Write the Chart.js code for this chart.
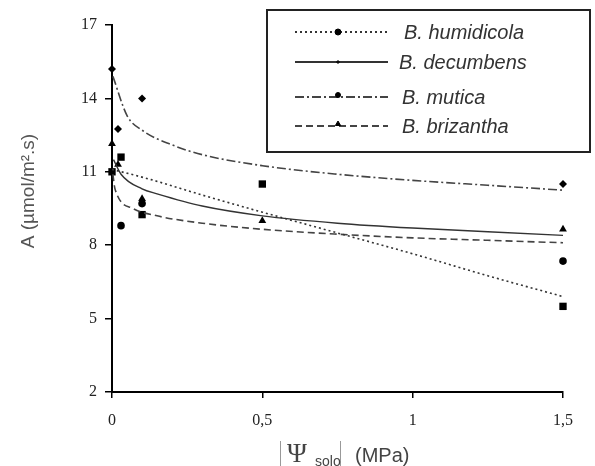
<!DOCTYPE html>
<html>
<head>
<meta charset="utf-8">
<script src="https://cdn.jsdelivr.net/npm/chart.js@4/dist/chart.umd.min.js"></script>
<style>
html, body { margin: 0; padding: 0; background: #fff; }
#wrap { width: 595px; height: 466px; }
</style>
</head>
<body>
<div id="wrap"><canvas id="myChart"></canvas></div>
<script>
var seriesNames = ['B. humidicola', 'B. decumbens', 'B. mutica', 'B. brizantha'];
var yTicks = [2, 5, 8, 11, 14, 17];
var xTicks = [0, 0.5, 1, 1.5];

// measured points
var humidicolaX = [0, 0.03, 0.1, 0.5, 1.5];
var humidicolaY = [11.0, 11.6, 9.25, 10.5, 5.5];
var decumbensX = [0, 0.02, 0.1, 0.5, 1.5];
var decumbensY = [12.15, 11.3, 9.9, 9.0, 8.65];
var muticaX = [0, 0.02, 0.1, 1.5];
var muticaY = [15.2, 12.75, 14.0, 10.5];
var brizanthaX = [0.03, 0.1, 1.5];
var brizanthaY = [8.8, 9.7, 7.35];

// fitted curves
var humidicolaFitX = [0, 0.13, 0.3, 0.5, 0.75, 1.0, 1.25, 1.5];
var humidicolaFitY = [11.1, 10.68, 10.05, 9.35, 8.5, 7.65, 6.75, 5.9];
var decumbensFitX = [0.005, 0.03, 0.1, 0.15, 0.3, 0.5, 0.75, 1.0, 1.25, 1.5];
var decumbensFitY = [11.5, 10.9, 10.3, 10.1, 9.6, 9.2, 8.9, 8.7, 8.55, 8.4];
var muticaFitX = [0.003, 0.05, 0.1, 0.2, 0.3, 0.5, 0.75, 1.0, 1.25, 1.5];
var muticaFitY = [14.9, 13.3, 12.7, 12.1, 11.7, 11.25, 10.9, 10.65, 10.45, 10.25];
var brizanthaFitX = [0.003, 0.01, 0.07, 0.15, 0.3, 0.5, 0.75, 1.0, 1.25, 1.5];
var brizanthaFitY = [10.9, 10.3, 9.5, 9.2, 8.9, 8.65, 8.45, 8.3, 8.2, 8.1];

function zip(xs, ys) {
  var out = [];
  for (var i = 0; i < xs.length; i++) out.push({ x: xs[i], y: ys[i] });
  return out;
}

var lineStyles = [
  { dash: [2, 3], width: 1.6, color: '#333', marker: 'circle', mSize: 3 },
  { dash: [], width: 1.4, color: '#333', marker: 'cross', mSize: 2 },
  { dash: [9, 3, 2, 3], width: 1.6, color: '#444', marker: 'circle', mSize: 2.5 },
  { dash: [7, 4], width: 1.6, color: '#444', marker: 'triangle', mSize: 3 }
];

var fits = [
  zip(humidicolaFitX, humidicolaFitY),
  zip(decumbensFitX, decumbensFitY),
  zip(muticaFitX, muticaFitY),
  zip(brizanthaFitX, brizanthaFitY)
];
var pts = [
  { data: zip(humidicolaX, humidicolaY), style: 'rect', r: 5.2 },
  { data: zip(decumbensX, decumbensY), style: 'triangle', r: 4.5 },
  { data: zip(muticaX, muticaY), style: 'rectRot', r: 4 },
  { data: zip(brizanthaX, brizanthaY), style: 'circle', r: 3.8 }
];

var datasets = [];
for (var i = 0; i < 4; i++) {
  datasets.push({
    type: 'line',
    label: seriesNames[i],
    data: fits[i],
    borderColor: lineStyles[i].color,
    borderWidth: lineStyles[i].width,
    borderDash: lineStyles[i].dash,
    pointRadius: 0,
    cubicInterpolationMode: 'monotone',
    fill: false
  });
}
for (var j = 0; j < 4; j++) {
  datasets.push({
    type: 'scatter',
    label: seriesNames[j] + ' pts',
    data: pts[j].data,
    pointStyle: pts[j].style,
    pointRadius: pts[j].r,
    backgroundColor: '#000',
    borderColor: '#000',
    borderWidth: 0,
    showLine: false,
    clip: false
  });
}

var legendBox = {
  id: 'legendBox',
  afterDraw: function(chart) {
    var ctx = chart.ctx;
    ctx.save();
    ctx.fillStyle = '#fff';
    ctx.fillRect(267, 10, 323, 142);
    ctx.strokeStyle = '#222';
    ctx.lineWidth = 2;
    ctx.strokeRect(267, 10, 323, 142);
    var rows = [32, 62, 97, 126];
    var textX = [404, 399, 402, 402];
    for (var i = 0; i < 4; i++) {
      var s = lineStyles[i];
      ctx.strokeStyle = s.color;
      ctx.lineWidth = 2;
      ctx.setLineDash(s.dash);
      ctx.beginPath();
      ctx.moveTo(295, rows[i]);
      ctx.lineTo(388, rows[i]);
      ctx.stroke();
      ctx.setLineDash([]);
      ctx.fillStyle = '#000';
      ctx.strokeStyle = '#000';
      ctx.lineWidth = 1;
      Chart.helpers.drawPoint(ctx, { pointStyle: s.marker, radius: s.mSize, rotation: 0, borderWidth: 1 }, 338, rows[i] - (i >= 2 ? 2 : 0));
      ctx.fillStyle = '#333';
      ctx.font = 'italic 20px "Liberation Sans", Arial, sans-serif';
      ctx.textBaseline = 'middle';
      ctx.fillText(seriesNames[i], textX[i], rows[i] + 1);
    }
    ctx.restore();
  }
};

var axisTitles = {
  id: 'axisTitles',
  afterDraw: function(chart) {
    var ctx = chart.ctx;
    ctx.save();
    // y title
    ctx.fillStyle = '#555';
    ctx.translate(29, 191);
    ctx.rotate(-Math.PI / 2);
    ctx.textAlign = 'center';
    ctx.textBaseline = 'middle';
    ctx.font = '19px "Liberation Sans", Arial, sans-serif';
    ctx.fillText('A (\u00B5mol/m\u00B2.s)', 0, 0);
    ctx.restore();

    // x title
    ctx.save();
    ctx.fillStyle = '#444';
    ctx.strokeStyle = '#999';
    ctx.lineWidth = 1;
    ctx.beginPath();
    ctx.moveTo(280.5, 441); ctx.lineTo(280.5, 466);
    ctx.moveTo(340.5, 441); ctx.lineTo(340.5, 466);
    ctx.stroke();
    ctx.textBaseline = 'alphabetic';
    ctx.font = '27px "Liberation Serif", serif';
    ctx.fillText('\u03A8', 287, 462);
    ctx.font = '14px "Liberation Sans", Arial, sans-serif';
    ctx.fillText('solo', 315, 466);
    ctx.font = '20px "Liberation Sans", Arial, sans-serif';
    ctx.fillText('(MPa)', 355, 462);
    ctx.restore();
  }
};

var ctx = document.getElementById('myChart').getContext('2d');
var myChart = new Chart(ctx, {
  data: { datasets: datasets },
  options: {
    responsive: true,
    maintainAspectRatio: false,
    animation: false,
    layout: { padding: { left: 16, right: 32, top: 25, bottom: 0 } },
    plugins: { legend: { display: false }, tooltip: { enabled: false } },
    scales: {
      x: {
        type: 'linear',
        min: 0,
        max: 1.5,
        afterBuildTicks: function(scale) {
          scale.ticks = xTicks.map(function(v) { return { value: v }; });
        },
        afterFit: function(scale) { scale.height = 74; },
        ticks: {
          color: '#222',
          padding: 13,
          font: { family: '"Liberation Serif", serif', size: 16 },
          callback: function(v) { return String(v).replace('.', ','); }
        },
        grid: { drawOnChartArea: false, drawTicks: true, tickLength: 6, color: '#000', lineWidth: 1.5 },
        border: { color: '#000', width: 2 }
      },
      y: {
        type: 'linear',
        min: 2,
        max: 17,
        afterBuildTicks: function(scale) {
          scale.ticks = yTicks.map(function(v) { return { value: v }; });
        },
        afterFit: function(scale) { scale.width = 96; },
        ticks: {
          color: '#222',
          padding: 8,
          font: { family: '"Liberation Serif", serif', size: 16 }
        },
        grid: { drawOnChartArea: false, drawTicks: true, tickLength: 7, color: '#000', lineWidth: 1.5 },
        border: { color: '#000', width: 2 }
      }
    }
  },
  plugins: [legendBox, axisTitles]
});
</script>
</body>
</html>
